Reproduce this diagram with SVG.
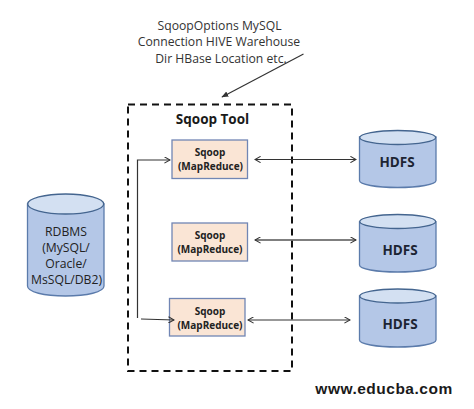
<svg xmlns="http://www.w3.org/2000/svg" width="474" height="409" viewBox="0 0 474 409">
<style>
text{font-family:"Open Sans","Liberation Sans",sans-serif;text-anchor:middle;fill:#222}
.note{font-size:12.2px;fill:#333}
.box{fill:#fae5d5;stroke:#7186b4;stroke-width:1.3}
.cyl{fill:#b4c7e7;stroke:#5b7bab;stroke-width:1.3}
.top{fill:#d3e0f2;stroke:#44658f;stroke-width:1.3}
.sq{font-size:10px;font-weight:700}
.hd{font-size:13.5px;font-weight:700;fill:#1c2433}
.db{font-size:12.2px}
.ln{fill:none;stroke:#333;stroke-width:1.2}
.hd2{stroke:#555;stroke-width:1.7}
</style>
<defs>
<marker id="open" viewBox="0 0 10 10" refX="9" refY="5" markerWidth="7" markerHeight="7" markerUnits="userSpaceOnUse" orient="auto-start-reverse"><path d="M1 .5L9 5L1 9.500" fill="none" stroke="#333" stroke-width="1.500"/></marker>
<marker id="solid" viewBox="0 0 10 10" refX="9" refY="5" markerWidth="7" markerHeight="7" markerUnits="userSpaceOnUse" orient="auto"><path d="M0 1L10 5L0 9z" fill="#333"/></marker>
</defs>
<rect width="474" height="409" fill="#fff"/>
<g id="options-note">
<text class="note" x="219.500" y="30">SqoopOptions MySQL</text>
<text class="note" x="219" y="46">Connection HIVE Warehouse</text>
<text class="note" x="221" y="63">Dir HBase Location etc.</text>
</g>
<g id="sqoop-tool">
<rect x="128" y="104.500" width="164" height="266.500" fill="none" stroke="#111" stroke-width="2" stroke-dasharray="7 5"/>
<text x="212.500" y="124" font-size="13.500" font-weight="700" style="fill:#1a1a1a">Sqoop Tool</text>
</g>
<g id="sqoop-1"><rect class="box" x="172" y="140" width="75.500" height="38.500"/><text class="sq" x="210" y="156">Sqoop</text><text class="sq" x="210.500" y="170">(MapReduce)</text></g>
<g id="sqoop-2"><rect class="box" x="172" y="223" width="75.500" height="38"/><text class="sq" x="210" y="239">Sqoop</text><text class="sq" x="210" y="253">(MapReduce)</text></g>
<g id="sqoop-3"><rect class="box" x="169.500" y="298.500" width="75.500" height="37.500"/><text class="sq" x="210" y="315">Sqoop</text><text class="sq" x="210" y="329">(MapReduce)</text></g>
<g id="hdfs-1"><path class="cyl" d="M359.500 137V180.500C359.500 184.500 376 187.500 397.500 187.500S436 184.500 436 180.500V137z"/><ellipse class="top" cx="397.700" cy="137.500" rx="38" ry="7"/><text class="hd" x="397" y="167">HDFS</text></g>
<g id="hdfs-2"><path class="cyl" d="M359.500 222V265C359.500 269 376 272 397.500 272S436 269 436 265V222z"/><ellipse class="top" cx="397.700" cy="221.500" rx="38" ry="7"/><text class="hd" x="400" y="255">HDFS</text></g>
<g id="hdfs-3"><path class="cyl" d="M359.500 296V340C359.500 344 376 347 397.500 347S436 344 436 340V296z"/><ellipse class="top" cx="397.700" cy="296" rx="38" ry="7"/><text class="hd" x="400" y="329">HDFS</text></g>
<g id="rdbms"><path class="cyl" d="M27.500 204V286C27.500 292 44 296 65.500 296S104 292 104 286V204z"/><ellipse class="top" cx="65.700" cy="204" rx="38" ry="10"/>
<text class="db" x="66" y="236">RDBMS</text><text class="db" x="66" y="252">(MySQL/</text><text class="db" x="66" y="268">Oracle/</text><text class="db" x="66.500" y="284">MsSQL/DB2)</text></g>
<g id="connectors">
<path class="ln" d="M303.500 54L222 97" marker-end="url(#solid)"/>
<path class="ln" d="M137.500 318V160H170" marker-end="url(#open)"/>
<path class="ln" d="M141 319L174 320" marker-end="url(#open)"/>
<path class="ln" d="M255 159.500H356" marker-start="url(#open)" marker-end="url(#open)"/>
<path class="ln hd2" d="M255 240H356" marker-start="url(#open)" marker-end="url(#open)"/>
<path class="ln" d="M248 320H350" marker-start="url(#open)" marker-end="url(#open)"/>
</g>
<text id="watermark" x="384" y="394" font-size="15.500" font-weight="700" style="font-family:'Liberation Sans',sans-serif;fill:#1a1a1a;letter-spacing:.5px">www.educba.com</text>
</svg>
